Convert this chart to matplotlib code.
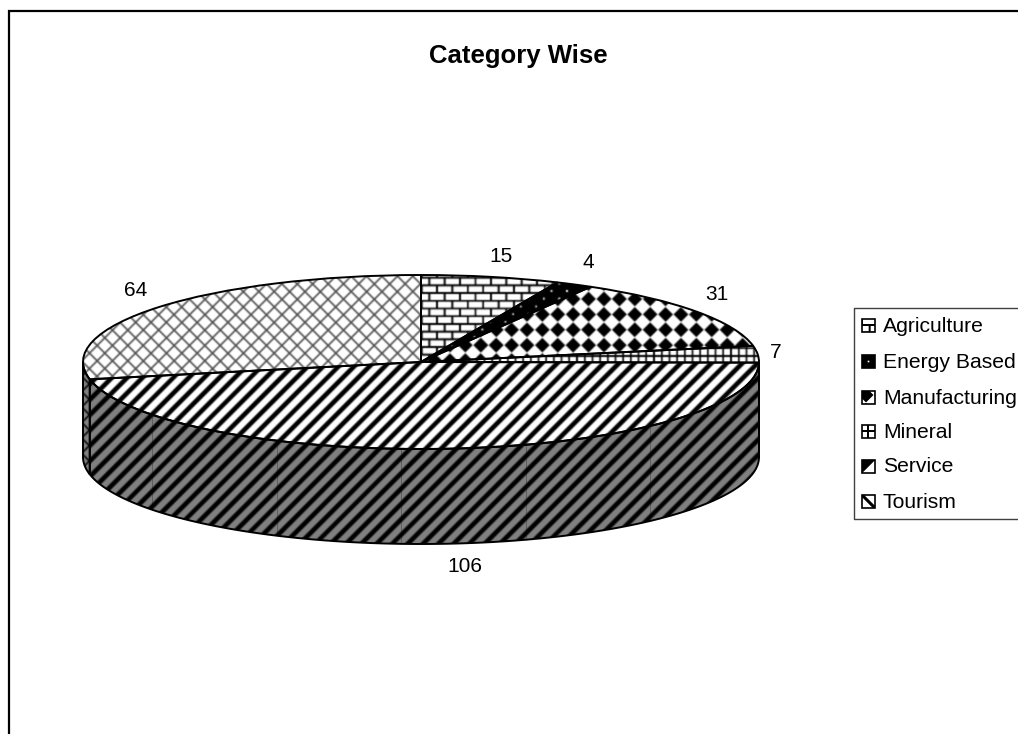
import numpy as np
import matplotlib
matplotlib.use('Agg')
import matplotlib.pyplot as plt
from matplotlib.patches import Polygon, Rectangle

# 데이터
categories = ['Agriculture', 'Energy Based', 'Manufacturing', 'Mineral', 'Service', 'Tourism']
values = [15, 4, 31, 7, 106, 64]
chart_title = 'Category Wise'

W, H = 1018, 734
TILE = 15.4   # pattern period in pixels
GRAY = 0.5

plt.rcParams['font.family'] = ['Liberation Sans', 'DejaVu Sans']


def in_band(a, period, width, offset=0.0):
    """True where coordinate a lies on a line of given width repeating every period."""
    return np.abs((a - offset + period / 2) % period - period / 2) < width / 2


def pattern(kind, x, y):
    """Returns ink coverage (0 = paper, 1 = ink) at pixel coordinates x, y."""
    p = TILE
    if kind == 'brick':
        row = np.floor((y - 0.5) / (p / 2))
        shift = np.where(row % 2 == 0, 0.0, p / 2)
        return in_band(y, p / 2, 1.9, 0.5) | in_band(x + shift, p, 1.9, 13.5)
    if kind == 'spots':
        spot = in_band(x, p, 1.8, 4.9) & in_band(y, p, 1.8, 6.1)
        spot |= in_band(x, p, 1.8, 4.9 + p / 2) & in_band(y, p, 1.8, 6.1 + p / 2)
        return ~spot
    if kind == 'diamond':
        dx = np.abs((x - 3.4 + p / 2) % p - p / 2)
        dy = np.abs((y - 6.4 + p / 2) % p - p / 2)
        return dx + dy < 7.4
    if kind == 'grid':
        return in_band(x, p / 2, 1.7, 7.2) | in_band(y, p / 2, 1.7, 1.8)
    if kind == 'stripes':
        return in_band(x + y, p, 6.6, 12.0)
    # 격자 무늬
    return in_band(x + y, p, 2.3, 11.4) | in_band(x - y, p, 2.3, 13.4)


def render(kind, x0, y0, w, h, paper=1.0, ink=0.0, scale=1.0, ss=3, soften=True):
    """Supersampled grey image of a pattern for the pixel box x0, y0, w, h."""
    xs = x0 + (np.arange(w * ss) + 0.5) / ss * scale
    ys = y0 + (np.arange(h * ss) + 0.5) / ss * scale
    xx, yy = np.meshgrid(xs, ys)
    cover = pattern(kind, xx, yy).astype(float)
    cover = cover.reshape(h, ss, w, ss).mean(axis=(1, 3))
    if soften:
        # 원본 이미지의 번짐 흉내
        for axis in (0, 1):
            cover = 0.2 * np.roll(cover, 1, axis) + 0.6 * cover + 0.2 * np.roll(cover, -1, axis)
    return paper + (ink - paper) * cover


fig = plt.figure(figsize=(W / 100, H / 100), dpi=100, facecolor='white')
ax = fig.add_axes([0, 0, 1, 1])
ax.axis('off')

# 타원 파이: 픽셀 영역을 축 위치로 지정
left, right, top, bottom = 83, 759, 275, 449
depth = 95
pie_ax = fig.add_axes([left / W, 1 - bottom / H, (right - left) / W, (bottom - top) / H])
pie_ax.patch.set_alpha(0)
wedges, _ = pie_ax.pie(values, startangle=90, counterclock=False, radius=1.0,
                       colors=['none'] * len(values),
                       wedgeprops=dict(edgecolor='black', linewidth=1.4, clip_on=False, zorder=5))
pie_ax.set_aspect('auto')
pie_ax.axis('off')

patterns = ['brick', 'spots', 'diamond', 'grid', 'stripes', 'cross']
for wedge, kind in zip(wedges, patterns):
    ink = 0.3 if kind == 'cross' else 0.0
    im = ax.imshow(render(kind, 0, 0, W, H, ink=ink), cmap='gray', vmin=0, vmax=1,
                   extent=(0, W, H, 0), interpolation='nearest', aspect='auto', zorder=1)
    im.set_clip_path(wedge)

# 측면: 앞쪽 반원에서 보이는 부분
edges = np.cumsum([0] + values) / sum(values) * 2 * np.pi
depth_data = depth / ((bottom - top) / 2)
for i, kind in enumerate(patterns):
    a0, a1 = max(edges[i], np.pi / 2), min(edges[i + 1], 3 * np.pi / 2)
    if a1 <= a0:
        continue
    t = np.linspace(a0, a1, 200)
    xs, ys = np.sin(t), np.cos(t)
    pts = np.r_[np.c_[xs, ys], np.c_[xs, ys - depth_data][::-1]]
    poly = Polygon(pts, closed=True, facecolor='none', edgecolor='black', linewidth=1.4,
                   zorder=5, clip_on=False)
    pie_ax.add_patch(poly)
    im = ax.imshow(render('stripes' if kind == 'stripes' else 'cross', 0, 0, W, H, paper=GRAY),
                   cmap='gray', vmin=0, vmax=1, extent=(0, W, H, 0),
                   interpolation='nearest', aspect='auto', zorder=1)
    im.set_clip_path(poly)

# 측면의 희미한 세로선
for xp in np.arange(152, 700, 124.5):
    nx = (xp - left) / (right - left) * 2 - 1
    yb = -np.sqrt(1 - nx ** 2)
    pie_ax.plot([nx, nx], [yb, yb - depth_data], color='black', lw=0.6, alpha=0.3,
                zorder=3, clip_on=False)

pie_ax.set_xlim(-1, 1)
pie_ax.set_ylim(-1, 1)

# 값 라벨
label_xy = [(501, 256), (588, 263), (717, 294), (776, 352), (465, 566), (136, 290)]
for value, (lx, ly) in zip(values, label_xy):
    ax.text(lx, ly, str(value), ha='center', va='center', fontsize=15, color='black', zorder=6)

ax.text(518, 56, chart_title, ha='center', va='center', fontsize=18.5, fontweight='bold', zorder=6)

# 바깥 테두리 (오른쪽과 아래는 잘려 있음)
ax.plot([9.5, 9.5, W], [H, 11, 11], color='black', lw=1.6, zorder=6, solid_joinstyle='miter')

# 범례
ax.plot([W, 854.5, 854.5, W], [307.5, 307.5, 518.5, 518.5], color='#404040', lw=1.0, zorder=6)
legend_y = [325, 361, 397, 431, 466, 501]
# 범례 견본마다 패턴의 시작점과 배율
swatch_setup = [(13.5, 2.2, 1.0), (-1.6, -0.4, 1.0), (-0.6, 2.4, 1.0),
                (1.2, 3.5, 1.0), (4.35, 4.35, 0.5), (12.9, -0.5, 0.5)]
for name, kind, ly, (ox, oy, sc) in zip(categories, patterns, legend_y, swatch_setup):
    sx, sy, size = 862, ly - 6, 13
    ax.imshow(render(kind, ox, oy, size, size, scale=sc, soften=False), cmap='gray', vmin=0, vmax=1,
              extent=(sx, sx + size, sy + size, sy), interpolation='nearest', aspect='auto', zorder=6)
    ax.add_patch(Rectangle((sx, sy), size, size, facecolor='none', edgecolor='black', lw=1.2, zorder=7))
    ax.text(883, ly + 1, name, ha='left', va='center', fontsize=15.2, color='black', zorder=7)

ax.set_xlim(0, W)
ax.set_ylim(H, 0)
fig.savefig('out.png', dpi=100)
